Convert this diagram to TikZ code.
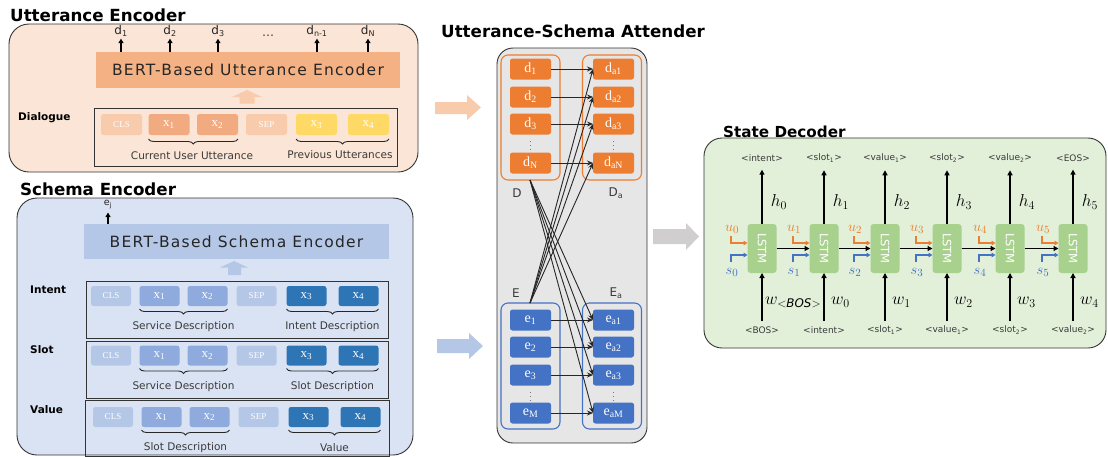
\documentclass[tikz,border=0pt]{standalone}
\usepackage{fontspec}
\setmainfont{DejaVu Sans}
\newfontfamily\serifx{Liberation Serif}
\newfontfamily\bertfont{DejaVu Sans}[LetterSpace=8]
\usetikzlibrary{decorations.pathreplacing,arrows.meta,calc}
\newcommand\fsz[1]{\fontsize{#1}{#1}\selectfont}
\definecolor{peachbg}{HTML}{FBE5D6}
\definecolor{bertU}{HTML}{F4B183}
\definecolor{tokU}{HTML}{F2AA80}
\definecolor{clsU}{HTML}{F8CBAD}
\definecolor{yel}{HTML}{FFD966}
\definecolor{bluebg}{HTML}{DAE3F3}
\definecolor{bertS}{HTML}{B4C7E7}
\definecolor{midS}{HTML}{8FAADC}
\definecolor{darkS}{HTML}{2E75B6}
\definecolor{attbg}{HTML}{E7E6E6}
\definecolor{orng}{HTML}{ED7D31}
\definecolor{blu}{HTML}{4472C4}
\definecolor{greenbg}{HTML}{E2F0D9}
\definecolor{lstmg}{HTML}{A9D18E}
\definecolor{grayarr}{HTML}{D0CECE}
\definecolor{txtg}{HTML}{3A3A3A}
\begin{document}
\begin{tikzpicture}[x=1pt,y=-1pt,
  bigbox/.style={draw=black!80,line width=0.9pt,rounded corners=20pt,anchor=north west,inner sep=0pt,outer sep=0pt},
  rowbox/.style={draw=black!80,line width=0.8pt,anchor=north west,inner sep=0pt,outer sep=0pt},
  tok/.style={rounded corners=2.5pt,minimum width=41pt,minimum height=21pt,inner sep=0pt,outer sep=0pt,text=white,font=\serifx\fsz{13}},
  clstok/.style={tok,font=\serifx\fsz{9}},
  title/.style={anchor=base west,inner sep=0pt,font=\bfseries\fsz{16.7}},
  rowlbl/.style={anchor=west,inner sep=0pt,font=\bfseries\fsz{10.5}},
  small/.style={inner sep=0pt,text=txtg,font=\fsz{10.5}},
  brc/.style={decorate,decoration={brace,mirror,amplitude=5pt},line width=0.9pt,black!85},
  thickarr/.style={-{Triangle[length=4.5pt,width=5pt]},line width=1.3pt},
  attarr/.style={-{Stealth[length=6pt,width=5pt]},line width=0.9pt,black!85},
  dbox/.style={tok,fill=orng,font=\serifx\fsz{14}},
  ebox/.style={tok,fill=blu,font=\serifx\fsz{14}},
  grp/.style={line width=1.1pt,rounded corners=7pt,anchor=north west,inner sep=0pt,outer sep=0pt,minimum width=59pt,minimum height=125pt},
  glbl/.style={inner sep=0pt,text=txtg,font=\fsz{12}},
  vdt/.style={inner sep=0pt,text=txtg,font=\fsz{7}},
  lstm/.style={fill=lstmg,rounded corners=3pt,minimum width=29pt,minimum height=49pt,inner sep=0pt,outer sep=0pt,text=white,font=\fsz{11.5}},
  declbl/.style={inner sep=0pt,text=txtg,font=\fsz{9}},
  hl/.style={inner sep=0pt,font=\fsz{17}},
  decarr/.style={-{Triangle[length=5pt,width=5pt]},line width=1.2pt},
  uarr/.style={-{Triangle[length=4pt,width=4.5pt]},line width=1.4pt,orng},
  sarr/.style={-{Triangle[length=4pt,width=4.5pt]},line width=1.4pt,blu}
]
\useasboundingbox (0,0) rectangle (1108,456);

% ================= Utterance Encoder =================
\node[title] (uttitle) at (10,21) {Utterance Encoder};
\node[bigbox,fill=peachbg,minimum width=409pt,minimum height=148pt] (ubox) at (9,24) {};
\node[fill=bertU,anchor=north west,minimum width=304pt,minimum height=36pt,inner sep=0pt,outer sep=0pt,text=black!85,font=\bertfont\fsz{15.5}] (bertu) at (96,52) {BERT-Based Utterance Encoder};
\foreach \n/\x/\s in {1/121/1,2/170/2,3/218/3,4/317/{n-1},5/368/N}{
  \node[inner sep=0pt,text=black!85,font=\fsz{12}] (dl\n) at (\x,31) {d\textsubscript{\s}};
  \draw[thickarr] (bertu.north -| dl\n) -- ($(dl\n.south)+(0,2)$);
}
\node[inner sep=0pt,text=txtg,font=\fsz{12}] (dots) at (268,36) {\dots};
\fill[clsU] (232,97) -- (247,90) -- (262,97) -- (254.5,97) -- (254.5,103.5) -- (239.5,103.5) -- (239.5,97) -- cycle;
\node[rowlbl] (dlg) at (18,118) {Dialogue};
\node[rowbox,minimum width=303pt,minimum height=58pt] (dialbox) at (94,108) {};
\node[clstok,fill=clsU] (uc) at (121.5,124.5) {CLS};
\node[tok,fill=tokU] (ux1) at (169,124.5) {x\textsubscript{1}};
\node[tok,fill=tokU] (ux2) at (217.5,124.5) {x\textsubscript{2}};
\node[clstok,fill=clsU] (us) at (266.5,124.5) {SEP};
\node[tok,fill=yel] (ux3) at (316.5,124.5) {x\textsubscript{3}};
\node[tok,fill=yel] (ux4) at (368.5,124.5) {x\textsubscript{4}};
\draw[brc] ($(ux1.south west)+(0,4)$) -- ($(ux2.south east)+(0,4)$);
\draw[brc] ($(ux3.south west)+(0,4)$) -- ($(ux4.south east)+(0,4)$);
\node[small] (cuu) at (192,155.5) {Current User Utterance};
\node[small] (pu) at (340,154.5) {Previous Utterances};

% ================= Schema Encoder =================
\node[title] (sctitle) at (20,195) {Schema Encoder};
\node[bigbox,fill=bluebg,minimum width=396pt,minimum height=257pt] (sbox) at (17,198) {};
\node[fill=bertS,anchor=north west,minimum width=305pt,minimum height=35pt,inner sep=0pt,outer sep=0pt,text=black!85,font=\bertfont\fsz{15.5}] (berts) at (84,224) {BERT-Based Schema Encoder};
\node[inner sep=0pt,text=black!85,font=\fsz{9.5}] (ej) at (108,205) {e\textsubscript{j}};
\draw[thickarr] (berts.north -| ej) -- ($(ej.south)+(0,3)$);
\fill[bertS] (220,267.5) -- (234,261) -- (248,267.5) -- (241,267.5) -- (241,275) -- (228,275) -- (228,267.5) -- cycle;

\node[rowlbl] (lint) at (30,290) {Intent};
\node[rowlbl] (lslot) at (30,350) {Slot};
\node[rowlbl] (lval) at (30,410) {Value};
\node[rowbox,minimum width=302pt,minimum height=57pt] (ibox) at (86,281) {};
\node[rowbox,minimum width=302pt,minimum height=57pt] (slbox) at (86,341) {};
\node[rowbox,minimum width=304pt,minimum height=56pt] (vbox) at (85,400) {};

\foreach \r/\y/\dx/\la/\lb in {i/296/0/Service Description/Intent Description,s/355.5/0/Service Description/Slot Description,v/417/2/Slot Description/Value}{
  \node[clstok,fill=bertS,minimum width=40pt,minimum height=20pt] (\r c) at (111+\dx,\y) {CLS};
  \node[tok,fill=midS,minimum width=40pt,minimum height=20pt] (\r x1) at (159.5+\dx,\y) {x\textsubscript{1}};
  \node[tok,fill=midS,minimum width=40pt,minimum height=20pt] (\r x2) at (207.5+\dx,\y) {x\textsubscript{2}};
  \node[clstok,fill=bertS,minimum width=40pt,minimum height=20pt] (\r s) at (256.5+\dx,\y) {SEP};
  \node[tok,fill=darkS,minimum width=40pt,minimum height=20pt] (\r x3) at (306.5+\dx,\y) {x\textsubscript{3}};
  \node[tok,fill=darkS,minimum width=40pt,minimum height=20pt] (\r x4) at (358.5+\dx,\y) {x\textsubscript{4}};
  \draw[brc] ($(\r x1.south west)+(0,3)$) -- ($(\r x2.south east)+(0,3)$);
  \draw[brc] ($(\r x3.south west)+(0,3)$) -- ($(\r x4.south east)+(0,3)$);
  \node[small] (\r la) at ($(\r x1.south)!0.5!(\r x2.south)+(0,21)$) {\la};
  \node[small] (\r lb) at ($(\r x3.south)!0.5!(\r x4.south)+(0,21)$) {\lb};
}

% ================= big arrows =================
\fill[clsU] (435,102) -- (467,102) -- (467,95) -- (481,107.5) -- (467,120) -- (467,114) -- (435,114) -- cycle;
\fill[bertS] (437,339) -- (469,339) -- (469,333) -- (483,346) -- (469,359) -- (469,353) -- (437,353) -- cycle;
\fill[grayarr] (653,229) -- (686,229) -- (686,223) -- (699,236.5) -- (686,250) -- (686,244) -- (653,244) -- cycle;

% ================= Attender =================
\node[title] (attitle) at (441,37) {Utterance-Schema Attender};
\node[bigbox,fill=attbg,rounded corners=16pt,minimum width=150pt,minimum height=395pt] (abox) at (497,48) {};
\node[grp,draw=orng] (gD) at (501,55) {};
\node[grp,draw=orng] (gDa) at (582.5,55) {};
\node[grp,draw=blu,minimum height=126pt] (gE) at (501,303) {};
\node[grp,draw=blu,minimum height=126pt] (gEa) at (582.5,303) {};
\foreach \n/\y/\s in {1/69/1,2/97/2,3/124/3,4/163/N}{
  \node[dbox] (d\n) at (530.5,\y) {d\textsubscript{\s}};
  \node[dbox] (da\n) at (613.5,\y) {d\textsubscript{a\s}};
  \draw[attarr] (d\n.east) -- (da\n.west);
}
\foreach \n/\y/\s in {1/320/1,2/347/2,3/375/3,4/413/M}{
  \node[ebox] (e\n) at (530.5,\y) {e\textsubscript{\s}};
  \node[ebox] (ea\n) at (613.5,\y) {e\textsubscript{a\s}};
  \draw[attarr] (e\n.east) -- (ea\n.west);
}
\node[vdt] (vd1) at (530.5,143.5) {$\vdots$};
\node[vdt] (vd2) at (613.5,143.5) {$\vdots$};
\node[vdt] (ve1) at (530.5,394) {$\vdots$};
\node[vdt] (ve2) at (613.5,394) {$\vdots$};
\node[glbl] (lD) at (517,193) {D};
\node[glbl] (lDa) at (616,193) {D\textsubscript{a}};
\node[glbl] (lE) at (516,293) {E};
\node[glbl] (lEa) at (616,293) {E\textsubscript{a}};
\coordinate (dsrc) at (530,180);
\coordinate (esrc) at (530,303);
\foreach \n in {1,2,3,4}{
  \draw[attarr] (dsrc) -- (ea\n.west);
  \draw[attarr] (esrc) -- (da\n.west);
}

% ================= State Decoder =================
\node[title,font=\bfseries\fsz{15.2}] (sdtitle) at (723,137) {State Decoder};
\node[bigbox,fill=greenbg,rounded corners=18pt,minimum width=402pt,minimum height=210pt] (dbox) at (704,138) {};
\foreach \i/\cx/\tl/\bl in {0/762/{<intent>}/{<BOS>},1/824/{<slot\textsubscript{1}>}/{<intent>},2/885/{<value\textsubscript{1}>}/{<slot\textsubscript{1}>},3/947/{<slot\textsubscript{2}>}/{<value\textsubscript{1}>},4/1010/{<value\textsubscript{2}>}/{<slot\textsubscript{2}>},5/1073/{<EOS>}/{<value\textsubscript{2}>}}{
  \node[lstm] (L\i) at (\cx,248.5) {\rotatebox{-90}{LSTM}};
  \node[declbl] (T\i) at (\cx,158) {\tl};
  \node[declbl] (B\i) at (\cx,330) {\bl};
  \draw[decarr] (L\i.north) -- ($(T\i.south)+(0,8)$);
  \draw[decarr] ($(B\i.north)+(0,-5)$) -- (L\i.south);
  \node[hl] (h\i) at (\cx+17,202) {$h_{\i}$};
  \node[inner sep=0pt,text=orng,font=\fsz{15}] (u\i) at (\cx-30,229) {$u_{\i}$};
  \node[inner sep=0pt,text=blu,font=\fsz{15}] (s\i) at (\cx-30,272) {$s_{\i}$};
  \draw[uarr] ($(L\i.west)+(-16.5,-12.5)$) |- ($(L\i.west)+(0,-5.5)$);
  \draw[sarr] ($(L\i.west)+(-16.5,13.5)$) |- ($(L\i.west)+(0,6.5)$);
}
\foreach \a/\b in {0/1,1/2,2/3,3/4,4/5}{
  \draw[decarr] (L\a.east) -- (L\b.west);
}
\node[hl,anchor=west] (w0) at (765,302) {$w_{{<}\mathit{BOS}{>}}$};
\foreach \i/\cx in {0/824,1/885,2/947,3/1010,4/1073}{
  \node[hl,anchor=west] (wl\i) at (\cx+7,302) {$w_{\i}$};
}
\end{tikzpicture}
\end{document}
